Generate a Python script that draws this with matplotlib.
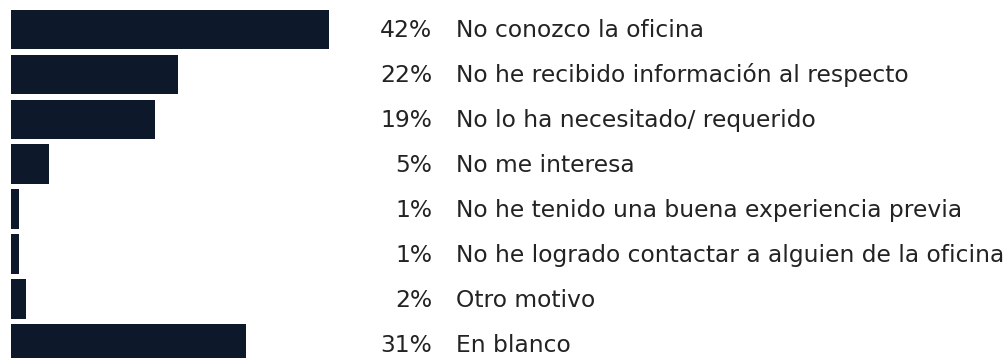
import matplotlib
matplotlib.use("Agg")
import matplotlib.pyplot as plt
import matplotlib.transforms as mtransforms

# Motivos por los que no se ha acudido a la oficina (%)
categories = [
    "No conozco la oficina",
    "No he recibido información al respecto",
    "No lo ha necesitado/ requerido",
    "No me interesa",
    "No he tenido una buena experiencia previa",
    "No he logrado contactar a alguien de la oficina",
    "Otro motivo",
    "En blanco",
]
percentages = [42, 22, 19, 5, 1, 1, 2, 31]

BAR_COLOR = "#0d192b"
TEXT_COLOR = "#232323"
FONT = "DejaVu Sans"
FONT_SIZE = 16.8

W, H, DPI = 1008, 358, 100
PX_PER_PCT = 7.57   # horizontal scale of the bars
ROW_PX = 44.9       # row pitch
BAR_PX = 39.5       # bar thickness
LEFT_PX = 11
TOP_PX = 29.5       # centre of the first row
BASELINE_PX = 7.8   # text baseline sits this far below the bar centre

fig = plt.figure(figsize=(W / DPI, H / DPI), dpi=DPI)
ax = fig.add_axes([0, 0, 1, 1])

rows = list(range(len(categories)))
ax.barh(rows, percentages, height=BAR_PX / ROW_PX, color=BAR_COLOR, left=0)

ax.set_xlim(-LEFT_PX / PX_PER_PCT, (W - LEFT_PX) / PX_PER_PCT)
ax.set_ylim((H - TOP_PX) / ROW_PX, -TOP_PX / ROW_PX)
ax.axis("off")

trans = mtransforms.blended_transform_factory(ax.transAxes, ax.transData)
for row, pct, label in zip(rows, percentages, categories):
    y = row + BASELINE_PX / ROW_PX
    ax.text(432 / W, y, f"{pct}%", transform=trans, ha="right", va="baseline",
            fontsize=FONT_SIZE, color=TEXT_COLOR, family=FONT)
    ax.text(456 / W, y, label, transform=trans, ha="left", va="baseline",
            fontsize=FONT_SIZE, color=TEXT_COLOR, family=FONT)

fig.savefig("out.png", dpi=DPI, facecolor="white")
